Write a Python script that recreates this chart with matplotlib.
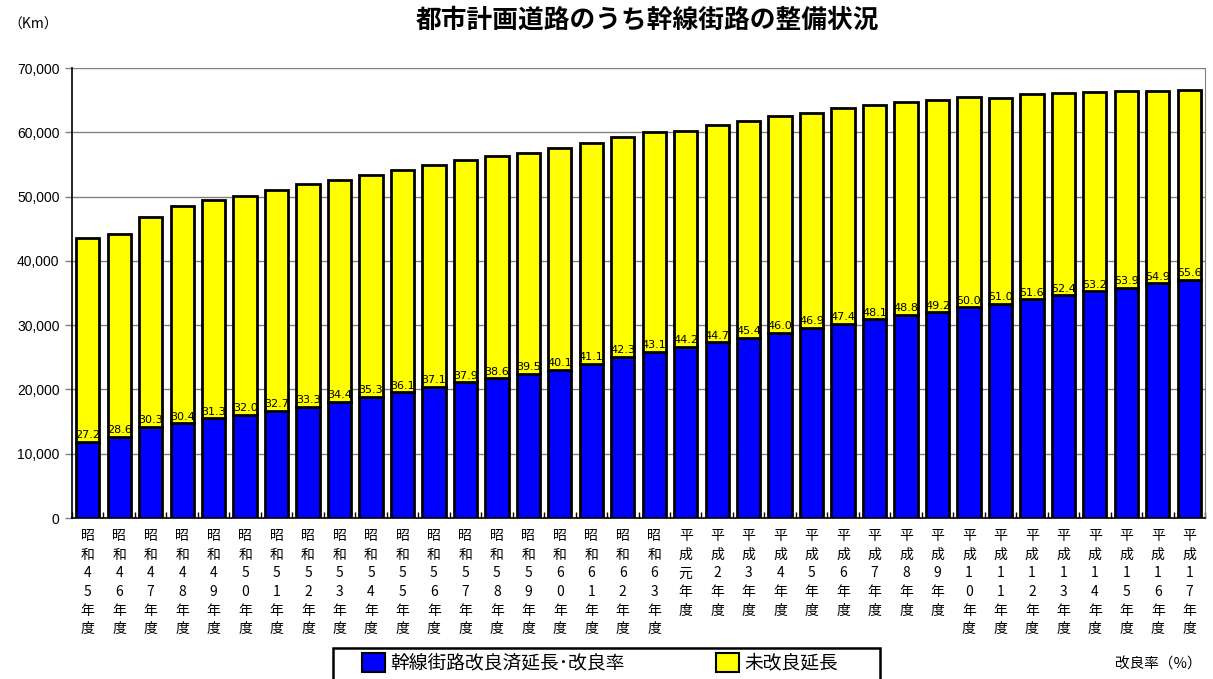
import matplotlib.pyplot as plt
import matplotlib.patches as mpatches
import numpy as np

plt.rcParams['font.family'] = ['Noto Sans CJK JP', 'DejaVu Sans']

years = ['昭和45', '昭和46', '昭和47', '昭和48', '昭和49', '昭和50', '昭和51', '昭和52',
         '昭和53', '昭和54', '昭和55', '昭和56', '昭和57', '昭和58', '昭和59', '昭和60',
         '昭和61', '昭和62', '昭和63', '平成元', '平成2', '平成3', '平成4', '平成5',
         '平成6', '平成7', '平成8', '平成9', '平成10', '平成11', '平成12', '平成13',
         '平成14', '平成15', '平成16', '平成17']

# 改良済延長 (km)
improved = [11850, 12630, 14190, 14750, 15480, 16030, 16680, 17300, 18090, 18830,
            19540, 20370, 21110, 21740, 22430, 23080, 23980, 25070, 25880, 26610,
            27330, 28040, 28770, 29550, 30230, 30900, 31580, 31990, 32770, 33320,
            34030, 34670, 35280, 35830, 36490, 37020]

# 未改良延長 (km)
unimproved = [31710, 31550, 32630, 33780, 33990, 34060, 34340, 34660, 34490, 34530,
              34590, 34540, 34580, 34570, 34350, 34480, 34350, 34200, 34160, 33590,
              33800, 33720, 33760, 33450, 33550, 33340, 33130, 33030, 32760, 32010,
              31930, 31490, 31030, 30640, 29980, 29560]

# 改良率 (%)
rate = [27.2, 28.6, 30.3, 30.4, 31.3, 32.0, 32.7, 33.3, 34.4, 35.3, 36.1, 37.1,
        37.9, 38.6, 39.5, 40.1, 41.1, 42.3, 43.1, 44.2, 44.7, 45.4, 46.0, 46.9,
        47.4, 48.1, 48.8, 49.2, 50.0, 51.0, 51.6, 52.4, 53.2, 53.9, 54.9, 55.6]


def vlabel(s):
    # 縦書きラベル
    return '\n'.join(list(s + '年度'))


fig = plt.figure(figsize=(12.13, 6.79), dpi=100)
ax = fig.add_axes([72/1213, 1-518/679, 1133/1213, 450/679])

x = np.arange(len(years))
ax.bar(x, improved, width=0.74, color='#0000FF', edgecolor='black', linewidth=2, zorder=3)
ax.bar(x, unimproved, bottom=improved, width=0.74, color='#FFFF00',
       edgecolor='black', linewidth=2, zorder=3)

for xi, h, r in zip(x, improved, rate):
    ax.text(xi, h + 250, f'{r:.1f}', ha='center', va='bottom', fontsize=8,
            family='DejaVu Sans', zorder=4)

ax.set_xlim(-0.5, len(years) - 0.5)
ax.set_ylim(0, 70000)
ax.set_yticks(range(0, 70001, 10000))
ax.set_yticklabels([f'{v:,}' for v in range(0, 70001, 10000)], fontsize=10, family='Liberation Sans')
ax.yaxis.grid(True, color='#808080', linewidth=1, zorder=0)
ax.tick_params(axis='y', length=5, width=1, color='#808080', pad=4)

ax.set_xticks(x)
ax.set_xticklabels([vlabel(y) for y in years], fontsize=10, linespacing=1.42, va='top')
ax.tick_params(axis='x', length=0, pad=8)
ax.set_xticks(np.arange(len(years) + 1) - 0.5, minor=True)
ax.tick_params(axis='x', which='minor', direction='in', length=4, width=1)

ax.spines['top'].set_visible(False)
ax.spines['right'].set_color('#808080')
ax.spines['left'].set_linewidth(1.2)
ax.spines['bottom'].set_linewidth(1.2)

fig.text(647/1213, 1-20/679, '都市計画道路のうち幹線街路の整備状況', ha='center', va='center',
         fontsize=18.5, fontweight='bold')
fig.text(8/1213, 1-25/679, '（Km）', ha='left', va='center', fontsize=10)
fig.text(1202/1213, 1-665/679, '改良率（%）', ha='right', va='center', fontsize=10.5)

# 凡例の枠 (下端は画像の外へはみ出す)
frame = mpatches.Rectangle((333/1213, -0.05), 547/1213, 0.05 + 1-648/679,
                           transform=fig.transFigure, facecolor='white',
                           edgecolor='black', linewidth=1.8)
fig.patches.append(frame)

h1 = mpatches.Patch(facecolor='#0000FF', edgecolor='black', linewidth=1.5)
h2 = mpatches.Patch(facecolor='#FFFF00', edgecolor='black', linewidth=1.5)
leg = fig.legend([h1, h2], ['幹線街路改良済延長･改良率', '未改良延長'], ncol=2,
                 loc='center left', bbox_to_anchor=(362/1213, 1-663/679),
                 fontsize=13.5, frameon=False, handlelength=1.2, handleheight=1.2,
                 handletextpad=0.3, columnspacing=4.9, borderpad=0, borderaxespad=0)

fig.savefig('out.png', dpi=100)
